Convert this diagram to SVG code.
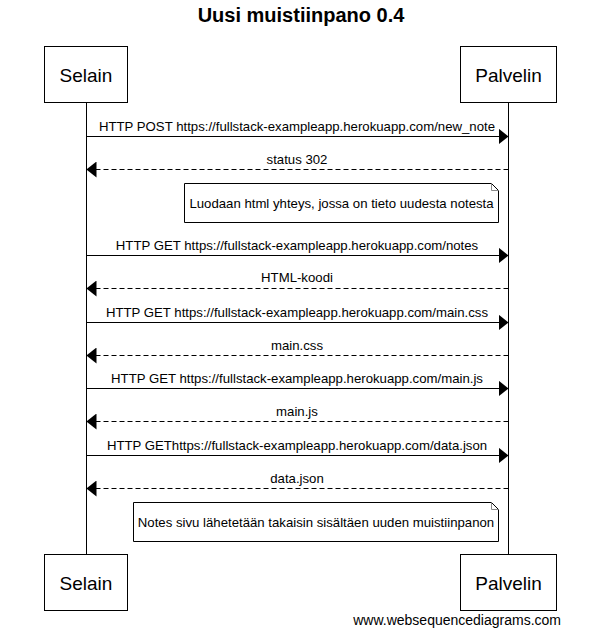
<svg xmlns="http://www.w3.org/2000/svg" width="616" height="630" viewBox="0 0 616 630">
<style>
text{font-family:"Liberation Sans",Arial,sans-serif;fill:#000}
.title{font-size:20px;font-weight:bold;text-anchor:middle}
.actor rect{fill:#fff;stroke:#000;stroke-width:1}
.actor text{font-size:19px;text-anchor:middle}
.life{stroke:#000;stroke-width:1}
.msg{stroke:#000;stroke-width:1;fill:none}
.ret{stroke-dasharray:5,3}
.lbl{font-size:13.2px;text-anchor:middle}
.note path.box{fill:#fff;stroke:#000;stroke-width:1}
.note path.fold{fill:none;stroke:#888;stroke-width:1}
.note text{font-size:13.2px;text-anchor:middle}
.foot{font-size:14px;text-anchor:end}
</style>
<defs>
<marker id="arrow" viewBox="0 0 10 16" refX="10" refY="8" markerWidth="10" markerHeight="16" markerUnits="userSpaceOnUse" orient="auto">
<path d="M0,0 L10,8 L0,16 Z" fill="#000"/>
</marker>
</defs>
<rect width="616" height="630" fill="#fff"/>
<text class="title" x="301" y="22">Uusi muistiinpano 0.4</text>
<g id="lifelines">
<line class="life" x1="86.5" y1="102.5" x2="86.5" y2="554.5"/>
<line class="life" x1="508.5" y1="102.5" x2="508.5" y2="554.5"/>
</g>
<g id="selain" class="actor">
<rect x="44.5" y="46.5" width="83" height="56"/>
<text x="86" y="82">Selain</text>
</g>
<g id="palvelin" class="actor">
<rect x="460.5" y="46.5" width="96" height="56"/>
<text x="508.5" y="82">Palvelin</text>
</g>
<g id="selain-bottom" class="actor">
<rect x="44.5" y="554.5" width="83" height="56"/>
<text x="86" y="590">Selain</text>
</g>
<g id="palvelin-bottom" class="actor">
<rect x="460.5" y="554.5" width="96" height="56"/>
<text x="508.5" y="590">Palvelin</text>
</g>
<g id="connectors">
<line class="msg" x1="86.5" y1="136.5" x2="508.5" y2="136.5" marker-end="url(#arrow)"/>
<text class="lbl" x="297" y="131">HTTP POST https://fullstack-exampleapp.herokuapp.com/new_note</text>
<line class="msg ret" x1="508.5" y1="169.5" x2="86.5" y2="169.5" marker-end="url(#arrow)"/>
<text class="lbl" x="297" y="164">status 302</text>
<line class="msg" x1="86.5" y1="255.5" x2="508.5" y2="255.5" marker-end="url(#arrow)"/>
<text class="lbl" x="297" y="250">HTTP GET https://fullstack-exampleapp.herokuapp.com/notes</text>
<line class="msg ret" x1="508.5" y1="288.5" x2="86.5" y2="288.5" marker-end="url(#arrow)"/>
<text class="lbl" x="297" y="282">HTML-koodi</text>
<line class="msg" x1="86.5" y1="322.5" x2="508.5" y2="322.5" marker-end="url(#arrow)"/>
<text class="lbl" x="297" y="317">HTTP GET https://fullstack-exampleapp.herokuapp.com/main.css</text>
<line class="msg ret" x1="508.5" y1="355.5" x2="86.5" y2="355.5" marker-end="url(#arrow)"/>
<text class="lbl" x="297" y="349.5">main.css</text>
<line class="msg" x1="86.5" y1="388.5" x2="508.5" y2="388.5" marker-end="url(#arrow)"/>
<text class="lbl" x="297" y="383">HTTP GET https://fullstack-exampleapp.herokuapp.com/main.js</text>
<line class="msg ret" x1="508.5" y1="421.5" x2="86.5" y2="421.5" marker-end="url(#arrow)"/>
<text class="lbl" x="297" y="416">main.js</text>
<line class="msg" x1="86.5" y1="455.5" x2="508.5" y2="455.5" marker-end="url(#arrow)"/>
<text class="lbl" x="297" y="450">HTTP GEThttps://fullstack-exampleapp.herokuapp.com/data.json</text>
<line class="msg ret" x1="508.5" y1="488.5" x2="86.5" y2="488.5" marker-end="url(#arrow)"/>
<text class="lbl" x="297" y="482.5">data.json</text>
</g>
<g id="note1" class="note">
<path class="box" d="M184.5,183.5 H491.5 L498.5,190.5 V222.5 H184.5 Z"/>
<path class="fold" d="M491.5,183.5 V190.5 H498.5"/>
<text x="341.5" y="208">Luodaan html yhteys, jossa on tieto uudesta notesta</text>
</g>
<g id="note2" class="note">
<path class="box" d="M133.5,502.5 H491.5 L498.5,509.5 V541.5 H133.5 Z"/>
<path class="fold" d="M491.5,502.5 V509.5 H498.5"/>
<text x="316" y="527">Notes sivu lähetetään takaisin sisältäen uuden muistiinpanon</text>
</g>
<text class="foot" x="561" y="625">www.websequencediagrams.com</text>
</svg>
